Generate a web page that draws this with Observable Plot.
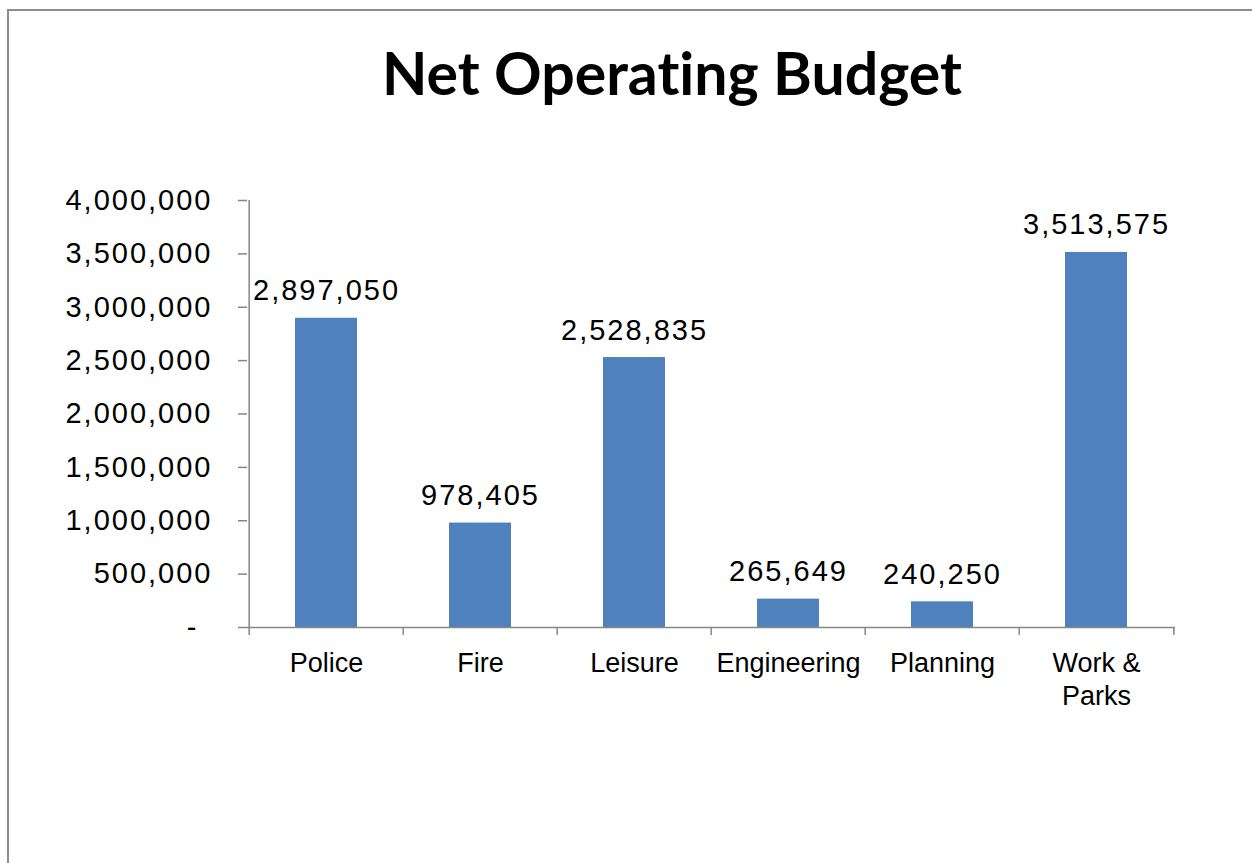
<!DOCTYPE html>
<html>
<head>
<meta charset="utf-8">
<script src="https://cdn.jsdelivr.net/npm/d3@7"></script>
<script src="https://cdn.jsdelivr.net/npm/@observablehq/plot@0.6"></script>
<style>
  html, body { margin: 0; padding: 0; background: #fff; }
  #wrap { position: relative; width: 1252px; height: 863px; overflow: hidden; }
  #border { position: absolute; left: 7px; top: 9px; width: 1400px; height: 1000px; border: 2px solid #8c8c8c; box-sizing: border-box; pointer-events: none; }
  #title { position: absolute; left: 0; top: 43px; width: 1344px; text-align: center; font-family: Lato, "Open Sans", sans-serif; font-weight: 700; font-size: 59px; line-height: 1; color: #000; font-variant-ligatures: none; font-feature-settings: "liga" 0; }
  #chart { position: absolute; left: 0; top: 150px; }
  #chart g[aria-label="y-axis tick label"] text, #chart g[aria-label="text"] text { letter-spacing: 2px; }
</style>
</head>
<body>
<div id="wrap">
  <div id="border"></div>
  <div id="title">Net Operating Budget</div>
  <div id="chart"></div>
</div>
<script>
const categories = ["Police", "Fire", "Leisure", "Engineering", "Planning", "Work & Parks"];
const categoryLabels = ["Police", "Fire", "Leisure", "Engineering", "Planning", "Work &\nParks"];
const values = [2897050, 978405, 2528835, 265649, 240250, 3513575];
const yTicks = [0, 500000, 1000000, 1500000, 2000000, 2500000, 3000000, 3500000, 4000000];

const data = categories.map((c, i) => ({category: c, value: values[i]}));
const fmt = d3.format(",");
const gray = "#868686";

const W = 1252, H = 713, ML = 247, MR = 77, MT = 50, MB = 236;
const step = (W - ML - MR) / categories.length;

const chart = Plot.plot({
  width: W, height: H,
  marginLeft: ML, marginRight: MR, marginTop: MT, marginBottom: MB,
  style: {fontFamily: "'Liberation Sans', Arial, sans-serif", background: "transparent", color: "#000", overflow: "visible"},
  x: {domain: categories, paddingInner: 0.6, paddingOuter: 0.3, axis: null},
  y: {domain: [0, 4000000], axis: null},
  marks: [
    Plot.barY(data, {x: "category", y: "value", fill: "#4F81BD"}),
    Plot.ruleY([0], {stroke: gray, strokeWidth: 1.5}),
    Plot.ruleX([categories[0]], {y1: 0, y2: 4000000, dx: -step / 2, stroke: gray, strokeWidth: 1.5}),
    Plot.axisY({ticks: yTicks.slice(1), tickSize: 9, tickPadding: 26, tickFormat: fmt, fontSize: 29, stroke: gray, strokeWidth: 1.5, label: null}),
    Plot.axisY({ticks: [0], tickSize: 9, tickPadding: 40, tickFormat: () => "-", fontSize: 29, stroke: gray, strokeWidth: 1.5, label: null}),
    Plot.axisX({tickSize: 8, tickFormat: () => "", dx: -step / 2, stroke: gray, strokeWidth: 1.5, label: null}),
    Plot.axisX({ticks: [categories[categories.length - 1]], tickSize: 8, tickFormat: () => "", dx: step / 2, stroke: gray, strokeWidth: 1.5, label: null}),
    Plot.axisX({tickSize: 0, tickPadding: 21, fontSize: 27, lineHeight: 1.22, tickFormat: d => categoryLabels[categories.indexOf(d)], label: null}),
    Plot.text(data, {x: "category", y: "value", text: d => fmt(d.value), lineAnchor: "bottom", dy: -18, fontSize: 29, fill: "#000"})
  ]
});
document.getElementById("chart").appendChild(chart);
</script>
</body>
</html>
